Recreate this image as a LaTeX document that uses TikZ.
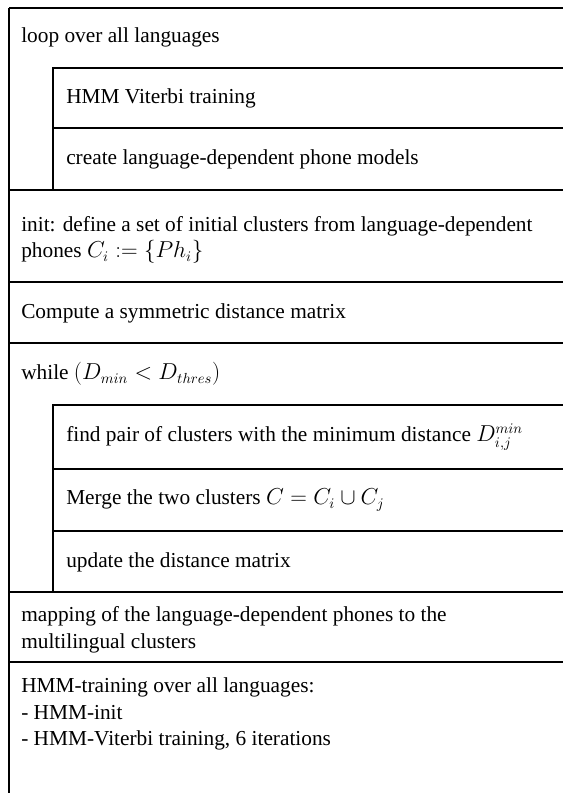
\documentclass[tikz,border=0pt]{standalone}
\usepackage{fontspec}
\setmainfont{Liberation Serif}
\tikzset{
  frame/.style={line width=1.3pt},
  celltext/.style={anchor=west,inner sep=0pt,align=left,font=\fontsize{16pt}{20pt}\selectfont}
}
\begin{document}
\begin{tikzpicture}[x=0.75pt,y=-0.75pt]
\useasboundingbox (0,0) rectangle (563,793);
% outer frame, open to the right and below
\draw[frame] (9,8) -- (563,8);
\draw[frame] (9,8) -- (9,793);
\draw[frame] (9,190) -- (563,190);
\draw[frame] (9,282) -- (563,282);
\draw[frame] (9,343) -- (563,343);
\draw[frame] (9,592) -- (563,592);
\draw[frame] (9,662) -- (563,662);
% inner loop block
\draw[frame] (53,190) -- (53,68) -- (563,68);
\draw[frame] (53,128) -- (563,128);
% inner while block
\draw[frame] (53,592) -- (53,405) -- (563,405);
\draw[frame] (53,469) -- (563,469);
\draw[frame] (53,531) -- (563,531);
% texts
\node[celltext] (loop) at (21,37) {loop over all languages};
\node[celltext] (vit) at (66,98) {HMM Viterbi training};
\node[celltext] (create) at (66,159) {create language-dependent phone models};
\node[celltext] (init) at (21,240) {init: define a set of initial clusters from language-dependent\\phones $C_i := \{Ph_i\}$};
\node[celltext] (dist) at (21,313) {Compute a symmetric distance matrix};
\node[celltext] (while) at (21,374) {while $(D_{min} < D_{thres})$};
\node[celltext] (pair) at (66,437) {find pair of clusters with the minimum distance $D_{i,j}^{min}$};
\node[celltext] (merge) at (66,500) {Merge the two clusters $C = C_i \cup C_j$};
\node[celltext] (update) at (66,562) {update the distance matrix};
\node[celltext] (mapping) at (21,630) {mapping of the language-dependent phones to the\\multilingual clusters};
\node[celltext] (train) at (21,714) {HMM-training over all languages:\\- HMM-init\\- HMM-Viterbi training, 6 iterations};
\end{tikzpicture}
\end{document}
